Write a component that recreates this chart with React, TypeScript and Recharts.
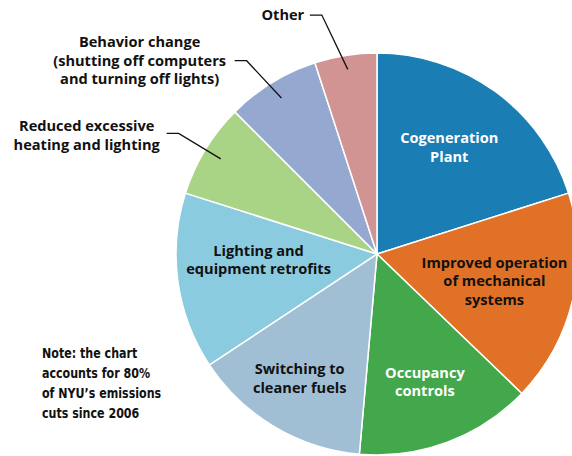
import { PieChart, Pie, Cell } from 'recharts'

const categories = [
  'Cogeneration Plant',
  'Improved operation of mechanical systems',
  'Occupancy controls',
  'Switching to cleaner fuels',
  'Lighting and equipment retrofits',
  'Reduced excessive heating and lighting',
  'Behavior change (shutting off computers and turning off lights)',
  'Other',
]
const shares = [20.1, 17.1, 14.2, 14.3, 14.2, 7.6, 7.5, 5.0]
const labelLines = [
  ['Cogeneration', 'Plant'],
  ['Improved operation', 'of mechanical', 'systems'],
  ['Occupancy', 'controls'],
  ['Switching to', 'cleaner fuels'],
  ['Lighting and', 'equipment retrofits'],
  ['Reduced excessive', 'heating and lighting'],
  ['Behavior change', '(shutting off computers', 'and turning off lights)'],
  ['Other'],
]
const noteLines = ['Note: the chart', 'accounts for 80%', 'of NYU\u2019s emissions', 'cuts since 2006']

const colors = ['#1a7db3', '#e07127', '#43a74b', '#a1bfd4', '#8bcbe0', '#a9d385', '#95a9d0', '#d29393']

// label placement per slice: inside labels use radius fraction + angle nudge,
// outside labels get a leader line with an elbow and a text shift
const layout = [
  { inside: true, r: 0.64, da: 2, color: '#fff' },
  { inside: true, r: 0.6, da: 0, color: '#111' },
  { inside: true, r: 0.68, da: 0, color: '#fff' },
  { inside: true, r: 0.73, da: -1, color: '#111' },
  { inside: true, r: 0.59, da: -5, color: '#111' },
  { inside: false, r: 0.91, elbow: 1.155, eda: 0, textDx: -92, dy: 2, color: '#111' },
  { inside: false, r: 0.91, elbow: 1.16, eda: 2.5, textDx: -107, dy: 0, color: '#111' },
  { inside: false, r: 0.93, elbow: 1.22, eda: 4, textDx: -39, dy: 0, color: '#111' },
]

const data = categories.map((name, i) => ({ name, value: shares[i] }))

const RAD = Math.PI / 180
const polar = (cx: number, cy: number, r: number, a: number) => ({
  x: cx + r * Math.cos(-a * RAD),
  y: cy + r * Math.sin(-a * RAD),
})

const LINE_H = 18.5

function renderLabel(props: any) {
  const { cx, cy, midAngle, outerRadius, index } = props
  const cfg = layout[index]
  const lines = labelLines[index]
  const textProps = {
    textAnchor: 'middle' as const,
    fontFamily: '"Open Sans", sans-serif',
    fontWeight: 700,
    fontSize: 14.6,
    fill: cfg.color,
  }
  if (cfg.inside) {
    const p = polar(cx, cy, outerRadius * cfg.r, midAngle + (cfg.da ?? 0))
    const y0 = p.y - ((lines.length - 1) * LINE_H) / 2 + 5
    return (
      <text key={`l${index}`} {...textProps}>
        {lines.map((t, i) => (
          <tspan key={i} x={p.x} y={y0 + i * LINE_H}>
            {t}
          </tspan>
        ))}
      </text>
    )
  }
  const a = polar(cx, cy, outerRadius * cfg.r, midAngle)
  const e = polar(cx, cy, outerRadius * (cfg.elbow ?? 1.16), midAngle + (cfg.eda ?? 0))
  const tx = e.x + (cfg.textDx ?? 0)
  const y0 = e.y - ((lines.length - 1) * LINE_H) / 2 + 5 + (cfg.dy ?? 0)
  return (
    <g key={`l${index}`}>
      <polyline points={`${a.x},${a.y} ${e.x},${e.y} ${e.x - 12},${e.y}`} fill="none" stroke="#111" strokeWidth={1.3} />
      <text {...textProps}>
        {lines.map((t, i) => (
          <tspan key={i} x={tx} y={y0 + i * LINE_H}>
            {t}
          </tspan>
        ))}
      </text>
    </g>
  )
}

export default function App() {
  return (
    <div style={{ position: 'absolute', left: 0, top: 0, width: 572, height: 456, background: '#fff', overflow: 'hidden' }}>
      <PieChart width={572} height={456} margin={{ top: 0, right: 0, bottom: 0, left: 0 }}>
        <Pie
          data={data}
          dataKey="value"
          nameKey="name"
          cx={377}
          cy={254}
          outerRadius={201}
          startAngle={90}
          endAngle={-270}
          stroke="#fff"
          strokeWidth={1.5}
          labelLine={false}
          label={renderLabel}
          isAnimationActive={false}
        >
          {data.map((d, i) => (
            <Cell key={d.name} fill={colors[i]} />
          ))}
        </Pie>
      </PieChart>
      <div
        style={{
          position: 'absolute',
          left: 42,
          top: 343,
          fontFamily: '"Liberation Sans Narrow", "DejaVu Sans Condensed", sans-serif',
          fontSize: 14,
          fontWeight: 600,
          lineHeight: '20px',
          color: '#111',
          transform: 'scaleX(0.88)',
          transformOrigin: 'left top',
        }}
      >
        {noteLines.map((t) => (
          <div key={t}>{t}</div>
        ))}
      </div>
    </div>
  )
}
